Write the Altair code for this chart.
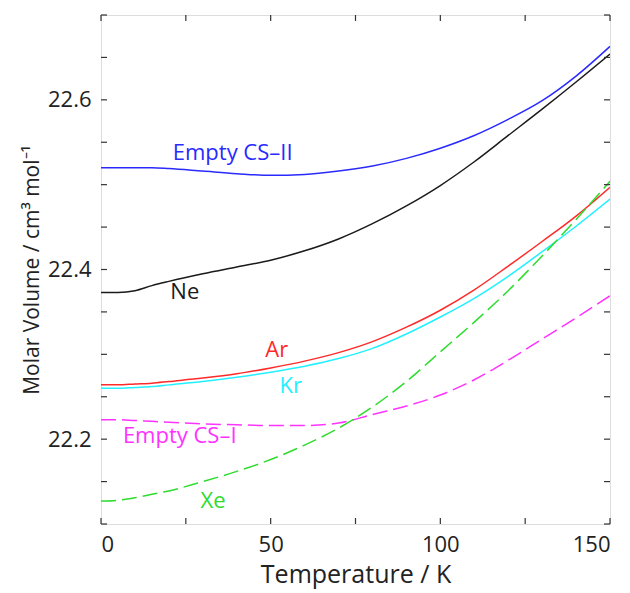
import altair as alt
import pandas as pd

# ---- data ----
T = [0, 5, 10, 15, 20, 30, 40, 50, 60, 70, 80, 90, 100, 110, 120, 130, 140, 150]

cs2 = [22.520, 22.520, 22.520, 22.520, 22.519, 22.516, 22.513, 22.511, 22.512, 22.516,
       22.522, 22.531, 22.543, 22.558, 22.577, 22.599, 22.628, 22.663]
ne = [22.373, 22.373, 22.375, 22.381, 22.386, 22.395, 22.403, 22.411, 22.422, 22.436,
      22.454, 22.475, 22.499, 22.527, 22.558, 22.589, 22.621, 22.654]
ar = [22.264, 22.264, 22.265, 22.266, 22.268, 22.272, 22.277, 22.284, 22.292, 22.302,
      22.315, 22.332, 22.352, 22.376, 22.404, 22.433, 22.463, 22.497]
kr = [22.260, 22.260, 22.261, 22.262, 22.264, 22.268, 22.273, 22.279, 22.286, 22.295,
      22.307, 22.324, 22.344, 22.366, 22.392, 22.421, 22.451, 22.483]
cs1 = [22.223, 22.223, 22.222, 22.221, 22.220, 22.218, 22.217, 22.216, 22.216, 22.219,
       22.229, 22.239, 22.252, 22.270, 22.293, 22.318, 22.343, 22.369]
xe = [22.127, 22.128, 22.131, 22.135, 22.139, 22.150, 22.162, 22.176, 22.193, 22.213,
      22.238, 22.268, 22.303, 22.338, 22.375, 22.416, 22.459, 22.504]

series_names = ["Empty CS\u2013II", "Ne", "Ar", "Kr", "Empty CS\u2013I", "Xe"]
series_values = [cs2, ne, ar, kr, cs1, xe]
series_colors = ["#2a2aff", "#1a1a1a", "#ff2a2a", "#22f0ff", "#ff33ff", "#2edc2e"]
series_dashed = [False, False, False, False, True, True]

label_T = [38.8, 24.7, 51.8, 55.9, 23.2, 33.0]
label_V = [22.537, 22.374, 22.305, 22.263, 22.204, 22.127]

x_ticks = [0, 25, 50, 75, 100, 125, 150]
x_labels = [0, 50, 100, 150]
y_ticks = [22.1, 22.15, 22.2, 22.25, 22.3, 22.35, 22.4, 22.45, 22.5, 22.55, 22.6, 22.65, 22.7]
y_labels = [22.2, 22.4, 22.6]

FONT = "Open Sans"
W, H = 509, 509
TICK = 6

rows = []
for name, vals in zip(series_names, series_values):
    for t, v in zip(T, vals):
        rows.append({"T": t, "V": v, "series": name})
df = pd.DataFrame(rows)

lab = pd.DataFrame({"T": label_T, "V": label_V, "series": series_names})

xs = alt.Scale(domain=[0, 150], nice=False, zero=False)
ys = alt.Scale(domain=[22.1, 22.7], nice=False, zero=False)

layers = []
for name, col, dashed in zip(series_names, series_colors, series_dashed):
    kw = dict(color=col, strokeWidth=1.5, clip=True)
    if dashed:
        kw["strokeDash"] = [15, 6]
    base = alt.Chart(df[df.series == name]).mark_line(interpolate="monotone", **kw)
    if name == series_names[0]:
        enc = base.encode(
            x=alt.X("T:Q", scale=xs, title="Temperature / K",
                    axis=alt.Axis(values=x_labels, format="d", ticks=False, domain=False,
                                  grid=False, labelPadding=10, labelFontSize=22,
                                  labelFont=FONT, labelColor="#222", titleFont=FONT,
                                  titleFontSize=25, titleFontWeight="normal",
                                  titleColor="#222", titlePadding=7)),
            y=alt.Y("V:Q", scale=ys, title="Molar Volume / cm\u00b3 mol\u207b\u00b9",
                    axis=alt.Axis(values=y_labels, format=".1f", ticks=False, domain=False,
                                  grid=False, labelPadding=10, labelFontSize=22,
                                  labelFont=FONT, labelColor="#222", titleFont=FONT,
                                  titleFontSize=21, titleFontWeight="normal",
                                  titleColor="#222", titlePadding=5)),
        )
    else:
        enc = base.encode(x=alt.X("T:Q", scale=xs), y=alt.Y("V:Q", scale=ys))
    layers.append(enc)

for name, col in zip(series_names, series_colors):
    layers.append(
        alt.Chart(lab[lab.series == name]).mark_text(
            font=FONT, fontSize=22, color=col, align="center", baseline="middle"
        ).encode(x=alt.X("T:Q", scale=xs), y=alt.Y("V:Q", scale=ys), text="series:N")
    )

xt = pd.DataFrame({"T": x_ticks})
yt = pd.DataFrame({"V": y_ticks})
tick_style = dict(color="#333", strokeWidth=1.2)
layers += [
    alt.Chart(yt).mark_rule(**tick_style).encode(
        y=alt.Y("V:Q", scale=ys), x=alt.value(0), x2=alt.value(TICK)),
    alt.Chart(yt).mark_rule(**tick_style).encode(
        y=alt.Y("V:Q", scale=ys), x=alt.value(W - TICK), x2=alt.value(W)),
    alt.Chart(xt).mark_rule(**tick_style).encode(
        x=alt.X("T:Q", scale=xs), y=alt.value(0), y2=alt.value(TICK)),
    alt.Chart(xt).mark_rule(**tick_style).encode(
        x=alt.X("T:Q", scale=xs), y=alt.value(H - TICK), y2=alt.value(H)),
]

chart = alt.layer(*layers).properties(
    width=W, height=H,
    autosize=alt.AutoSizeParams(type="none"),
    padding={"left": 93, "top": 7, "right": 12, "bottom": 80},
).configure_view(stroke="#222", strokeWidth=1.5).configure(background="white")

chart.save("out.html", embed_options={"renderer": "svg", "actions": False})
